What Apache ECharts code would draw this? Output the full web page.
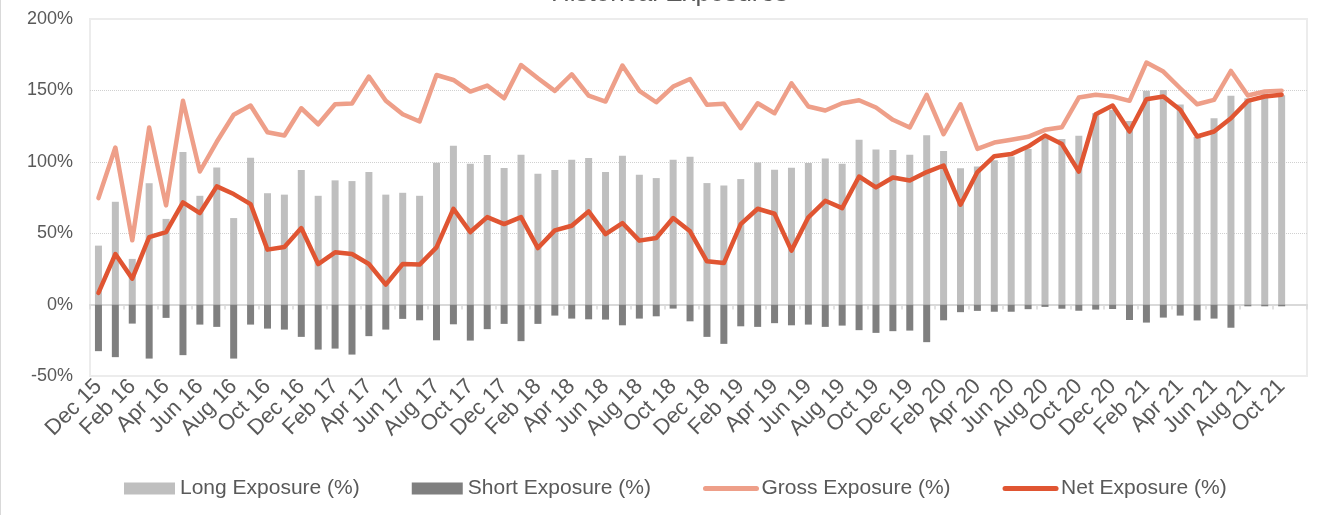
<!DOCTYPE html>
<html lang="en">
<head>
    <meta charset="UTF-8">
    <title>Historical Exposures</title>
    <style>
        body { margin: 0; background: #fff; }
        #main { width: 1339px; height: 515px; }
    </style>
</head>
<body>
<div id="main"></div>
<script src="https://cdn.jsdelivr.net/npm/echarts@6.0.0/dist/echarts.min.js"></script>
<script>
    // month labels (last one is an empty slot, like the excel chart)
    let months = [
        'Dec 15',
        'Jan 16', 'Feb 16', 'Mar 16', 'Apr 16', 'May 16', 'Jun 16', 'Jul 16', 'Aug 16', 'Sep 16', 'Oct 16', 'Nov 16', 'Dec 16',
        'Jan 17', 'Feb 17', 'Mar 17', 'Apr 17', 'May 17', 'Jun 17', 'Jul 17', 'Aug 17', 'Sep 17', 'Oct 17', 'Nov 17', 'Dec 17',
        'Jan 18', 'Feb 18', 'Mar 18', 'Apr 18', 'May 18', 'Jun 18', 'Jul 18', 'Aug 18', 'Sep 18', 'Oct 18', 'Nov 18', 'Dec 18',
        'Jan 19', 'Feb 19', 'Mar 19', 'Apr 19', 'May 19', 'Jun 19', 'Jul 19', 'Aug 19', 'Sep 19', 'Oct 19', 'Nov 19', 'Dec 19',
        'Jan 20', 'Feb 20', 'Mar 20', 'Apr 20', 'May 20', 'Jun 20', 'Jul 20', 'Aug 20', 'Sep 20', 'Oct 20', 'Nov 20', 'Dec 20',
        'Jan 21', 'Feb 21', 'Mar 21', 'Apr 21', 'May 21', 'Jun 21', 'Jul 21', 'Aug 21', 'Sep 21', 'Oct 21', 'Nov 21'
    ];

    let longExp = [
        41.3, 72, 32, 85, 60, 106.8, 76.2, 96, 60.6, 102.8, 78, 77, 94.2, 76.2, 87, 86.5, 92.8, 77,
        78.3, 76.2, 99.3, 111.2, 98.6, 104.7, 95.6, 104.9, 91.6, 94.2, 101.4, 102.6, 92.8, 104.2, 90.9, 88.6, 101.4, 103.5,
        85.1, 83.4, 87.9, 99.5, 94.4, 95.8, 99.1, 102.3, 98.6, 115.4, 108.6, 108.3, 104.9, 118.6, 107.6, 95.5, 96.7,
        101, 103.7, 109, 116.4, 115.9, 118.3, 134, 136.4, 128.5, 149.8, 150.3, 140.1, 117.4, 130.5, 146.2, 144.5, 148, 146.6
    ];
    let shortExp = [
        -32.6, -36.8, -13.3, -37.8, -9.3, -35.4, -14, -15.6, -37.8, -14, -16.8, -17.5, -22.6, -31.5, -30.8, -35, -22.1, -17.5,
        -10, -11, -25, -13.8, -25.2, -17.2, -13.5, -25.6, -13.5, -7.7, -9.8, -10.3, -10.5, -14.5, -9.8, -8.2, -2.8, -11.7,
        -22.6, -27.5, -15.2, -15.6, -13, -14.5, -14, -15.6, -14.7, -17.9, -19.8, -18.6, -18.2, -26.3, -11, -5.3, -4.4,
        -5, -5, -3.2, -1.6, -2.9, -4.3, -3.5, -3.1, -10.8, -12.6, -9.1, -7.7, -11.1, -9.8, -16.2, -1.2, -1.2, -1.2
    ];
    let grossExp = [
        74.6, 110, 45, 124, 69.5, 142.7, 93.2, 114, 132.9, 139.4, 120.7, 118.4, 137.5, 126.3, 140.3, 140.8, 159.7, 142.7,
        133.3, 128.2, 160.8, 157.3, 149.2, 153.4, 144.5, 167.8, 158.5, 149.7, 161.3, 146.4, 142.2, 167.4, 149.7, 141.7, 152.7, 158,
        139.9, 140.6, 123.5, 141, 134, 155, 138.7, 135.9, 141, 143.1, 138, 129.4, 124, 146.9, 119.3, 140.3, 109.1,
        113.5, 115.4, 117.5, 122.4, 124.2, 145, 146.9, 145.7, 142.7, 169.5, 163.2, 151.5, 140.3, 143.4, 163.6, 146.4, 149.2, 149.8
    ];
    let netExp = [
        8.2, 35.4, 18.2, 47.3, 50.8, 71.6, 64.1, 82.8, 77.4, 70.4, 38.5, 40.3, 53.6, 28.4, 36.6, 35.4, 28.4, 14,
        28.4, 28, 40.1, 67.1, 50.8, 61.3, 56.4, 61.3, 39.6, 52, 55.2, 65.3, 49.4, 57.1, 44.8, 46.6, 60.6, 51.3,
        30.3, 29.1, 56.4, 67.1, 63.6, 37.8, 61.1, 72.7, 67.6, 89.7, 82.1, 89, 86.9, 92.8, 97.4, 69.9, 92.8,
        103.9, 105.4, 110.7, 118.4, 112.4, 93.2, 133.3, 139.4, 121.2, 143.8, 145.7, 136.4, 117.7, 121.2, 130.5, 142.7, 145.7, 146.9
    ];

    let yTicks = { min: -50, max: 200, step: 50 };

    let txt = '#595959';
    let myChart = echarts.init(document.getElementById('main'));

    // legend entries for the lines: plain thick line, no dot
    let noDot = { opacity: 0, borderWidth: 0 };
    let thickLine = { width: 5, cap: 'round' };

    let option = {
        animation: false,
        textStyle: { fontFamily: 'Liberation Sans, Arial, sans-serif' },
        title: {
            text: 'Historical Exposures',
            left: 'center',
            top: -19,
            padding: 0,
            textStyle: { color: txt, fontSize: 26, fontWeight: 'normal' }
        },
        graphic: [
            { type: 'rect', left: 0, top: 0, shape: { width: 1, height: 515 }, style: { fill: '#d9d9d9' } }
        ],
        legend: {
            left: 124,
            top: 478,
            padding: 0,
            itemWidth: 51,
            itemHeight: 12,
            itemGap: 52,
            textStyle: { color: txt, fontSize: 21 },
            data: [
                { name: 'Long Exposure (%)', icon: 'rect' },
                { name: 'Short Exposure (%)', icon: 'rect' },
                { name: 'Gross Exposure (%)', itemStyle: noDot, lineStyle: thickLine },
                { name: 'Net Exposure (%)', itemStyle: noDot, lineStyle: thickLine }
            ]
        },
        grid: {
            left: 90,
            right: 32,
            top: 19,
            bottom: 139,
            show: true,
            borderColor: '#ececec',
            borderWidth: 2
        },
        xAxis: [
            {
                type: 'category',
                data: months,
                position: 'bottom',
                axisLine: { show: false, onZero: false },
                axisTick: { show: false },
                axisLabel: { interval: 1, rotate: 45, margin: 7, color: txt, fontSize: 22 }
            },
            {
                // zero line with the small ticks
                type: 'category',
                data: months,
                position: 'bottom',
                axisLine: { show: true, onZero: true, lineStyle: { color: '#d9d9d9', width: 2 } },
                axisTick: { show: true, interval: 1, length: 5, lineStyle: { color: '#d9d9d9', width: 1.5 } },
                axisLabel: { show: false }
            }
        ],
        yAxis: {
            type: 'value',
            min: yTicks.min,
            max: yTicks.max,
            interval: yTicks.step,
            axisLine: { show: false },
            axisTick: { show: false },
            axisLabel: { formatter: '{value}%', color: txt, fontSize: 18, margin: 17 },
            splitLine: {
                show: true,
                showMinLine: false,
                showMaxLine: false,
                lineStyle: { type: 'dotted', color: '#d0d0d0', width: 1 }
            }
        },
        series: [
            {
                name: 'Long Exposure (%)',
                type: 'bar',
                stack: 'exp',
                barWidth: 7,
                itemStyle: { color: '#bfbfbf' },
                data: longExp
            },
            {
                name: 'Short Exposure (%)',
                type: 'bar',
                stack: 'exp',
                barWidth: 7,
                itemStyle: { color: '#7f7f7f' },
                data: shortExp
            },
            {
                name: 'Gross Exposure (%)',
                type: 'line',
                symbol: 'none',
                color: '#ee9f89',
                lineStyle: { width: 4.5, color: '#ee9f89', cap: 'round', join: 'round' },
                data: grossExp
            },
            {
                name: 'Net Exposure (%)',
                type: 'line',
                symbol: 'none',
                color: '#e05532',
                lineStyle: { width: 4.5, color: '#e05532', cap: 'round', join: 'round' },
                data: netExp
            }
        ]
    };

    myChart.setOption(option);
</script>
</body>
</html>
